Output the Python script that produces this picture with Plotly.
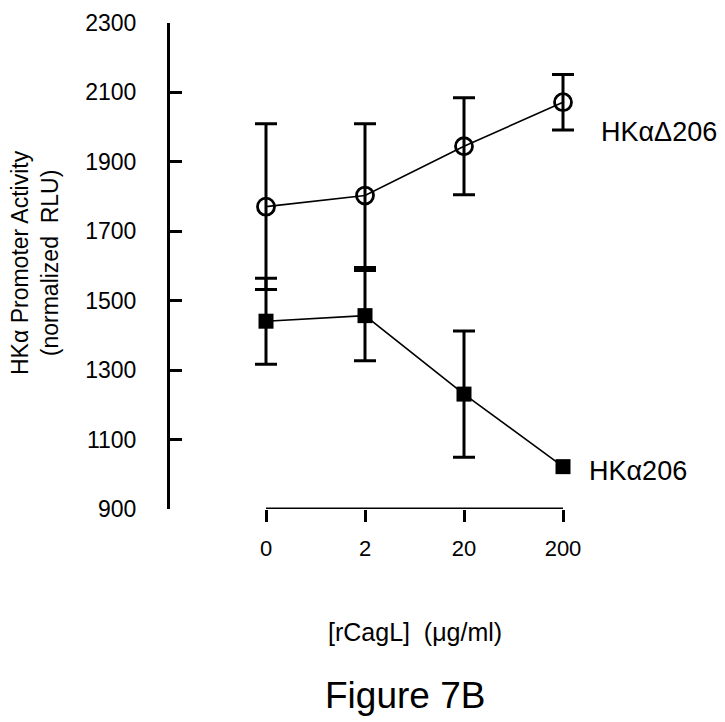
import plotly.graph_objects as go

# x categories ([rCagL] in ug/ml), plotted at evenly spaced positions
doses = ["0", "2", "20", "200"]
pos = [0, 1, 2, 3]

# HKaDelta206 (open circles)
delta_mean = [1771, 1803, 1945, 2072]
delta_err = [239, 207, 140, 80]

# HKa206 (filled squares); error at 200 too small to show
wt_mean = [1441, 1457, 1231, 1022]
wt_err = [124, 130, 182, 0]

y_ticks = [900, 1100, 1300, 1500, 1700, 1900, 2100, 2300]

W, H = 725, 722
OFF = 8   # the page body margin shifts the plot by 8px
FONT = "Liberation Sans, Arial, sans-serif"


def px_x(x):
    return (x - OFF) / W


def px_y(y):
    return 1 - (y - OFF) / H


# pixel layout of the original figure
X0_PX, X3_PX = 266, 563      # x of first / last dose
PAD = 0.12                   # extra x range so caps are not clipped
unit = (X3_PX - X0_PX) / (pos[-1] - pos[0])

ERR = dict(type="data", visible=True, color="black", thickness=3, width=11)

fig = go.Figure()

# error bars of HKa206, only where an error exists
keep = [i for i, e in enumerate(wt_err) if e > 0]
fig.add_trace(go.Scatter(
    x=[pos[i] for i in keep], y=[wt_mean[i] for i in keep], mode="markers",
    marker=dict(size=1, color="rgba(0,0,0,0)"),
    error_y=dict(ERR, array=[wt_err[i] for i in keep]),
    cliponaxis=False, showlegend=False, hoverinfo="skip",
))

fig.add_trace(go.Scatter(
    x=pos, y=wt_mean, mode="lines+markers",
    line=dict(color="black", width=1.6),
    marker=dict(symbol="square", size=15, color="black"),
    cliponaxis=False, showlegend=False,
))

fig.add_trace(go.Scatter(
    x=pos, y=delta_mean, mode="lines+markers",
    line=dict(color="black", width=1.6),
    marker=dict(symbol="circle-open", size=17, color="black",
                line=dict(width=2.8, color="black")),
    error_y=dict(ERR, array=delta_err),
    cliponaxis=False, showlegend=False,
))

# x axis line only between first and last dose (offset style axis)
fig.add_shape(type="line", xref="x", yref="y",
              x0=pos[0], x1=pos[-1], y0=y_ticks[0], y1=y_ticks[0],
              line=dict(color="black", width=3))

# series labels next to the last point
fig.add_annotation(x=pos[-1], y=delta_mean[-1], text="HKαΔ206",
                   showarrow=False, xanchor="left", xshift=36, yshift=-30,
                   font=dict(family=FONT, size=27, color="black"))
fig.add_annotation(x=pos[-1], y=wt_mean[-1], text="HKα206",
                   showarrow=False, xanchor="left", xshift=24, yshift=-4,
                   font=dict(family=FONT, size=27, color="black"))

# y title (two lines, rotated)
fig.add_annotation(xref="paper", yref="paper", x=px_x(35), y=px_y(263),
                   xanchor="center", yanchor="middle",
                   text="HKα Promoter Activity<br>(normalized  RLU)",
                   textangle=-90, showarrow=False,
                   font=dict(family=FONT, size=23, color="black"))
# x title
fig.add_annotation(xref="paper", yref="paper", x=px_x(415), y=px_y(632),
                   xanchor="center", yanchor="middle",
                   text="[rCagL]  (μg/ml)", showarrow=False,
                   font=dict(family=FONT, size=25, color="black"))
# figure label
fig.add_annotation(xref="paper", yref="paper", x=px_x(405), y=px_y(695),
                   xanchor="center", yanchor="middle",
                   text="Figure 7B", showarrow=False,
                   font=dict(family=FONT, size=37, color="black"))

fig.update_layout(
    width=W, height=H,
    margin=dict(l=0, r=0, t=0, b=0),
    paper_bgcolor="white", plot_bgcolor="white",
    font=dict(family=FONT, color="black"),
    xaxis=dict(
        domain=[px_x(X0_PX - PAD * unit), px_x(X3_PX + PAD * unit)],
        range=[pos[0] - PAD, pos[-1] + PAD],
        tickvals=pos, ticktext=doses,
        showline=False,
        ticks="outside", ticklen=12, tickwidth=3, tickcolor="black",
        showgrid=False, zeroline=False, automargin=False,
        ticklabelstandoff=8,
        tickfont=dict(family=FONT, size=22, color="black"),
    ),
    yaxis=dict(
        domain=[px_y(509), px_y(23)], range=[900, 2300],
        anchor="free", position=px_x(168),
        tickvals=y_ticks,
        showline=True, linecolor="black", linewidth=3,
        ticks="inside", ticklen=12, tickwidth=3, tickcolor="black",
        showgrid=False, zeroline=False, automargin=False,
        ticklabelstandoff=26,
        tickfont=dict(family=FONT, size=23, color="black"),
    ),
)

fig.write_html("out.html")
